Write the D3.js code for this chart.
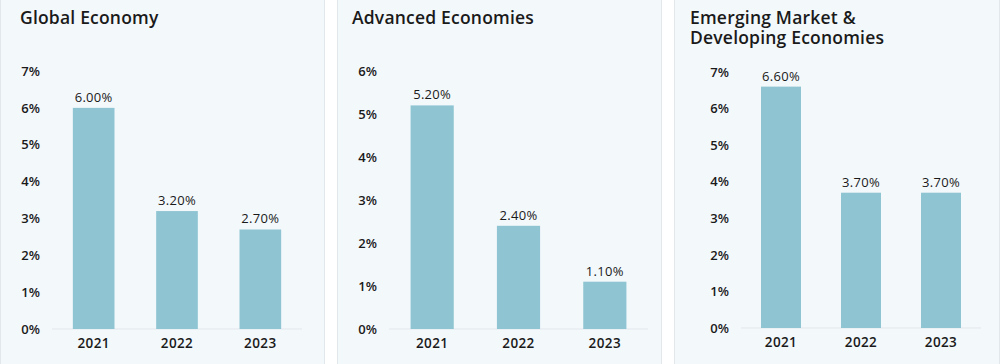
<!DOCTYPE html>
<html>
<head>
<meta charset="utf-8">
<script src="https://cdn.jsdelivr.net/npm/d3@7"></script>
<style>
  html, body { margin: 0; padding: 0; background: #ffffff; }
  svg { display: block; }
  text { font-family: "Open Sans", "Noto Sans", sans-serif; fill: #1a1a1a; }
</style>
</head>
<body>
<svg id="chart" width="1000" height="364"></svg>
<script>
// ---- data ----
const years = ["2021", "2022", "2023"];
const titles = [
  ["Global Economy"],
  ["Advanced Economies"],
  ["Emerging Market &", "Developing Economies"]
];
const globalEconomy = [6.0, 3.2, 2.7];
const advancedEconomies = [5.2, 2.4, 1.1];
const emergingEconomies = [6.6, 3.7, 3.7];
const yMaxes = [7, 6, 7];
const tickValues = [[0,1,2,3,4,5,6,7],[0,1,2,3,4,5,6],[0,1,2,3,4,5,6,7]];
const seriesList = [globalEconomy, advancedEconomies, emergingEconomies];

// ---- layout ----
const panels = [
  { x0: 0,   x1: 325, xl: 52,  xr: 302, yTop: 71, yBot: 329, tx: 20 },
  { x0: 337, x1: 662, xl: 389, xr: 648, yTop: 71, yBot: 329, tx: 352 },
  { x0: 674, x1: 1000, xl: 741, xr: 981, yTop: 72, yBot: 328, tx: 690 }
];

const svg = d3.select("#chart");
const FONT = '"Open Sans", "Noto Sans", sans-serif';

panels.forEach((p, i) => {
  const g = svg.append("g");
  g.append("rect")
    .attr("x", p.x0 + 0.5).attr("y", -1)
    .attr("width", p.x1 - p.x0 - 1).attr("height", 366)
    .attr("fill", "#f3f8fb").attr("stroke", "#e2e7ec").attr("stroke-width", 1);

  // title
  titles[i].forEach((line, j) => {
    g.append("text")
      .attr("x", p.tx).attr("y", 24 + j * 20)
      .attr("font-size", 17.5).attr("font-weight", 600)
      .attr("letter-spacing", 0.2)
      .text(line);
  });

  const x = d3.scaleBand().domain(years).range([p.xl, p.xr])
    .paddingInner(0.5).paddingOuter(0.25);
  const y = d3.scaleLinear().domain([0, yMaxes[i]]).range([p.yBot, p.yTop]);

  // baseline
  g.append("line")
    .attr("x1", p.xl).attr("x2", p.xr)
    .attr("y1", y(0)).attr("y2", y(0))
    .attr("stroke", "#e2e7ec").attr("stroke-width", 1);

  // y axis labels
  const yAxis = d3.axisLeft(y).tickValues(tickValues[i])
    .tickFormat(d => d + "%").tickSize(0).tickPadding(12);
  const ya = g.append("g").attr("transform", `translate(${p.xl},0)`).call(yAxis);
  ya.select(".domain").remove();
  ya.selectAll("text")
    .attr("font-family", FONT)
    .attr("font-size", 13).attr("font-weight", 600).attr("fill", "#1a1a1a");

  // x axis labels
  const xAxis = d3.axisBottom(x).tickSize(0).tickPadding(9);
  const xa = g.append("g").attr("transform", `translate(0,${y(0)})`).call(xAxis);
  xa.select(".domain").remove();
  xa.selectAll("text")
    .attr("font-family", FONT)
    .attr("font-size", 13.5).attr("font-weight", 600).attr("fill", "#1a1a1a")
    .attr("letter-spacing", 0.4);

  // bars
  const data = years.map((yr, k) => ({ year: yr, value: seriesList[i][k] }));
  g.selectAll("rect.bar").data(data).enter().append("rect")
    .attr("class", "bar")
    .attr("x", d => x(d.year)).attr("width", x.bandwidth())
    .attr("y", d => y(d.value)).attr("height", d => y(0) - y(d.value))
    .attr("fill", "#8fc5d2");

  // value labels
  g.selectAll("text.val").data(data).enter().append("text")
    .attr("class", "val")
    .attr("x", d => x(d.year) + x.bandwidth() / 2)
    .attr("y", d => y(d.value) - 6)
    .attr("text-anchor", "middle")
    .attr("font-size", 13).attr("font-weight", 500)
    .attr("letter-spacing", 0.3)
    .text(d => d.value.toFixed(2) + "%");
});
</script>
</body>
</html>
